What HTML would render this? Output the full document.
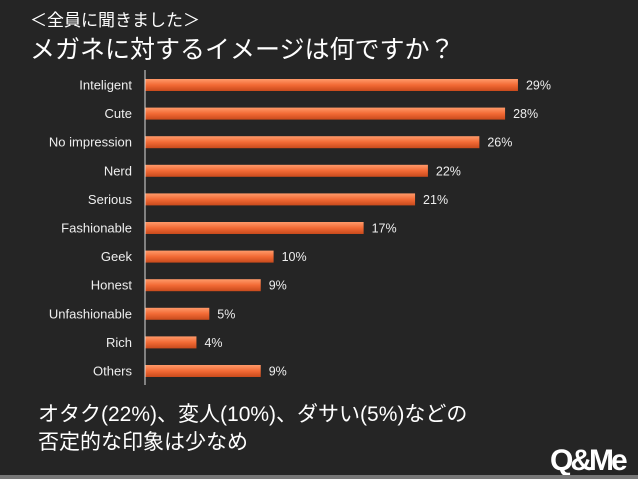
<!DOCTYPE html>
<html><head><meta charset="utf-8"><style>
body{margin:0;width:638px;height:479px;background:#252525;overflow:hidden;position:relative;font-family:"Liberation Sans","Noto Sans CJK JP",sans-serif;color:#fff}
.t{position:absolute;white-space:nowrap}
</style></head><body>
<div class="t" style="left:30px;top:6px;font-size:17px">＜全員に聞きました＞</div>
<div class="t" style="left:30px;top:30px;font-size:25px">メガネに対するイメージは何ですか？</div>
<svg id="c" width="638" height="400" style="position:absolute;left:0;top:0"></svg>
<div class="t" style="left:38px;top:398px;font-size:21px">オタク(22%)、変人(10%)、ダサい(5%)などの</div>
<div class="t" style="left:38px;top:426px;font-size:21px">否定的な印象は少なめ</div>
<div class="t" style="left:550px;top:444px;font-size:30px;font-weight:bold;letter-spacing:-3px">Q&amp;Me</div>
<div style="position:absolute;left:0;top:475px;width:638px;height:4px;background:#777"></div>
<script>
const categories=["Inteligent","Cute","No impression","Nerd","Serious","Fashionable","Geek","Honest","Unfashionable","Rich","Others"];
const values=[29,28,26,22,21,17,10,9,5,4,9];
const labels=["29%","28%","26%","22%","21%","17%","10%","9%","5%","4%","9%"];
const svg=document.getElementById('c'),NS="http://www.w3.org/2000/svg";
const x0=145,k=12.86,y0=85,step=28.6,bh=12;
const xs=v=>x0+v*k, ys=i=>y0+i*step;
svg.innerHTML='<defs><linearGradient id="g" x1="0" y1="0" x2="0" y2="1"><stop offset="0" stop-color="#ff9a6a"/><stop offset="0.5" stop-color="#f26a35"/><stop offset="1" stop-color="#c84a1c"/></linearGradient></defs>';
function mk(t,a){const e=document.createElementNS(NS,t);for(const k in a)e.setAttribute(k,a[k]);svg.appendChild(e);return e;}
categories.forEach((c,i)=>{
 const y=ys(i);
 const r=mk('rect',{x:x0,y:y-bh/2,width:xs(values[i])-x0,height:bh,fill:'url(#g)'});
 
 
 const t=mk('text',{x:132,y:y+4.5,'text-anchor':'end','font-size':13,fill:'#eee','font-family':'Liberation Sans,sans-serif'});
 t.textContent=c;
 
 
 const v=mk('text',{x:xs(values[i])+8,y:y+4.5,'font-size':12.5,fill:'#eee','font-family':'Liberation Sans,sans-serif'});
 v.textContent=labels[i];
 
 
});
const ax=mk('line',{x1:x0,x2:x0,y1:70,y2:385,stroke:'#ddd','stroke-width':1});


</script>
</body></html>
